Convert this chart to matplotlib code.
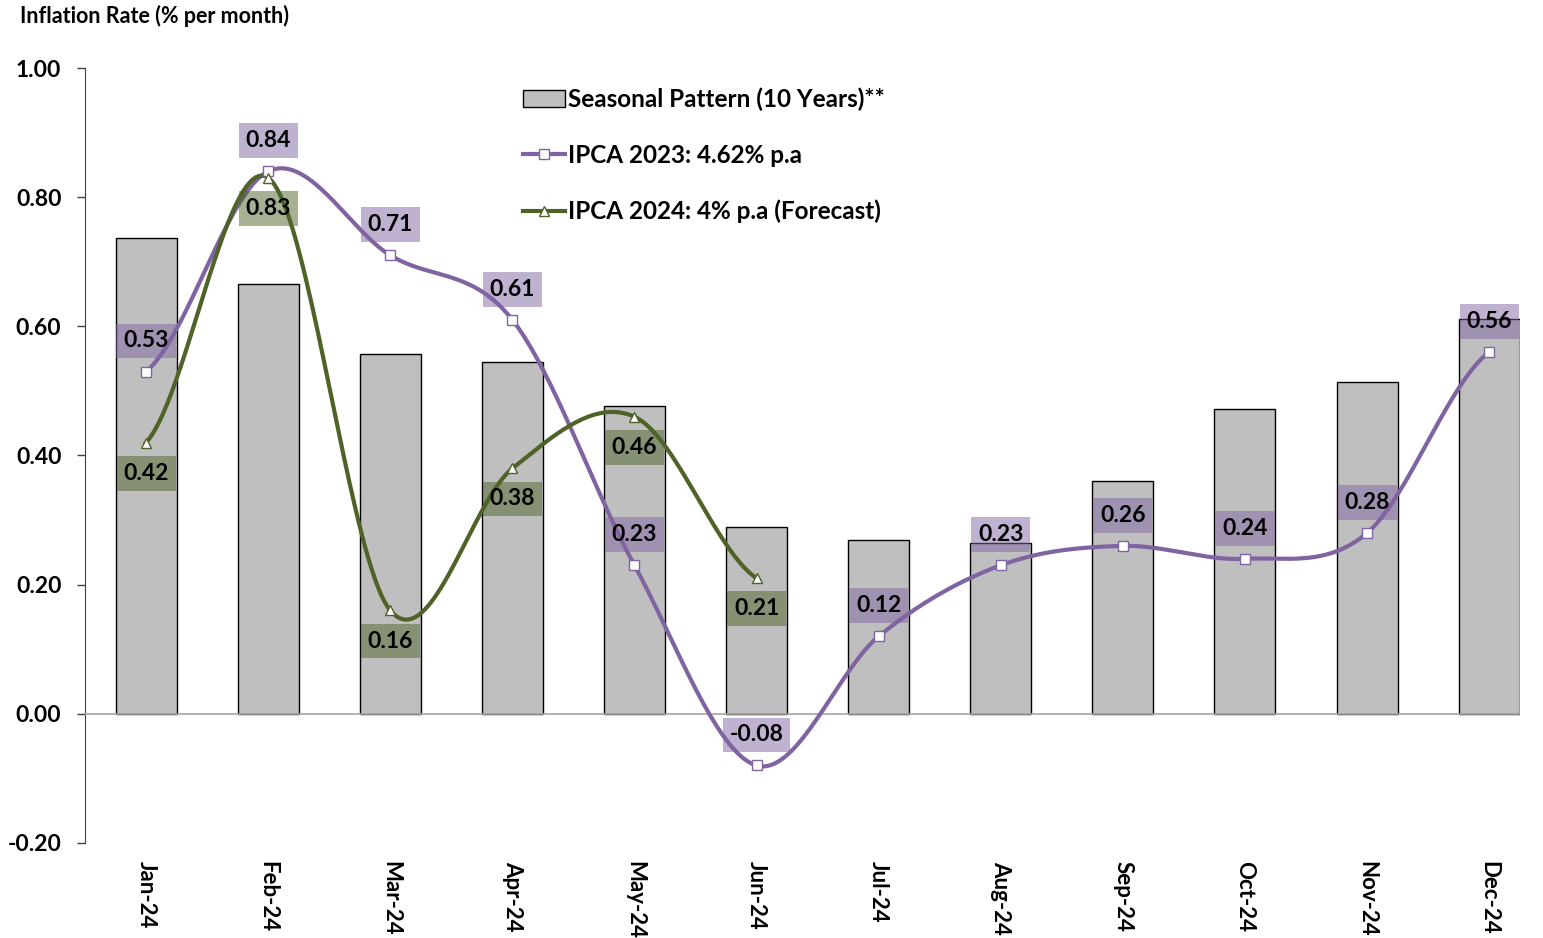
import numpy as np
import matplotlib.pyplot as plt
import matplotlib as mpl
from matplotlib.patches import Patch
from matplotlib.lines import Line2D

plt.rc('font', family=['Lato', 'DejaVu Sans'], weight='bold')
mpl.rcParams['axes.unicode_minus'] = False

months = ['Jan-24', 'Feb-24', 'Mar-24', 'Apr-24', 'May-24', 'Jun-24',
          'Jul-24', 'Aug-24', 'Sep-24', 'Oct-24', 'Nov-24', 'Dec-24']
seasonal = [0.737, 0.666, 0.557, 0.545, 0.477, 0.289, 0.269, 0.265, 0.361, 0.472, 0.514, 0.611]
ipca_2023 = [0.53, 0.84, 0.71, 0.61, 0.23, -0.08, 0.12, 0.23, 0.26, 0.24, 0.28, 0.56]
ipca_2024 = [0.42, 0.83, 0.16, 0.38, 0.46, 0.21]

purple = '#8064A2'
green = '#4F6228'


def smooth(y, n=40):
    # catmull-rom style smoothing like excel's smoothed line
    y = np.asarray(y, dtype=float)
    x = np.arange(len(y), dtype=float)
    xs, ys = [], []
    for i in range(len(y) - 1):
        p0 = y[i - 1] if i > 0 else y[i]
        p3 = y[i + 2] if i + 2 < len(y) else y[i + 1]
        p1, p2 = y[i], y[i + 1]
        c1 = p1 + (p2 - p0) / 6
        c2 = p2 - (p3 - p1) / 6
        t = np.linspace(0, 1, n)
        b = ((1 - t) ** 3 * p1 + 3 * (1 - t) ** 2 * t * c1
             + 3 * (1 - t) * t ** 2 * c2 + t ** 3 * p2)
        xs.append(x[i] + t)
        ys.append(b)
    return np.concatenate(xs), np.concatenate(ys)


fig = plt.figure(figsize=(15.43, 9.38), dpi=100)
ax = fig.add_axes([0.0551, 0.1013, 0.9298, 0.8262])

x = np.arange(len(months))
ax.bar(x, seasonal, width=0.5, color='#BFBFBF', edgecolor='black', linewidth=1, zorder=2)
ax.axhline(0, color='#A6A6A6', linewidth=1.2, zorder=3)

sx, sy = smooth(ipca_2023)
ax.plot(sx, sy, color=purple, linewidth=3, zorder=4)
ax.plot(x, ipca_2023, linestyle='none', marker='s', markersize=6.5,
        markerfacecolor='white', markeredgecolor=purple, markeredgewidth=1, zorder=5)

gx, gy = smooth(ipca_2024)
ax.plot(gx, gy, color=green, linewidth=3, zorder=4)
ax.plot(x[:len(ipca_2024)], ipca_2024, linestyle='none', marker='^', markersize=7.5,
        markerfacecolor='white', markeredgecolor=green, markeredgewidth=1, zorder=5)

for i, v in enumerate(ipca_2023):
    ax.annotate(f'{v:.2f}', (i, v), xytext=(0, 22), textcoords='offset points',
                ha='center', va='center', fontsize=16.5, fontweight='bold', zorder=6,
                bbox=dict(boxstyle='square,pad=0.3', facecolor=purple, alpha=0.5, edgecolor='none'))
for i, v in enumerate(ipca_2024):
    ax.annotate(f'{v:.2f}', (i, v), xytext=(0, -22), textcoords='offset points',
                ha='center', va='center', fontsize=16.5, fontweight='bold', zorder=6,
                bbox=dict(boxstyle='square,pad=0.3', facecolor=green, alpha=0.5, edgecolor='none'))

ax.set_xlim(-0.5, 11.25)
ax.set_ylim(-0.2, 1.0)
ax.set_yticks(np.arange(-0.2, 1.01, 0.2))
ax.set_yticklabels([f'{t:.2f}' for t in np.arange(-0.2, 1.01, 0.2)])
ax.set_xticks(x)
ax.set_xticklabels(months, rotation=-90, fontsize=16, fontweight='bold')
ax.tick_params(axis='x', length=0, pad=13)
ax.tick_params(axis='y', length=6, width=1, color='#404040', labelsize=16.5, pad=11)
for s in ['top', 'right', 'bottom']:
    ax.spines[s].set_visible(False)
ax.spines['left'].set_color('#404040')

fig.text(0.013, 0.983, 'Inflation Rate (% per month)', fontsize=15.5, fontweight='bold',
         ha='left', va='center')

handles = [
    Patch(facecolor='#BFBFBF', edgecolor='black', linewidth=1),
    Line2D([], [], color=purple, linewidth=3, marker='s', markersize=6.5,
           markerfacecolor='white', markeredgecolor=purple),
    Line2D([], [], color=green, linewidth=3, marker='^', markersize=7.5,
           markerfacecolor='white', markeredgecolor=green),
]
labels = ['Seasonal Pattern (10 Years)**', 'IPCA 2023: 4.62% p.a', 'IPCA 2024: 4% p.a (Forecast)']
ax.legend(handles, labels, loc='upper left', bbox_to_anchor=(0.29, 1.003), frameon=False,
          fontsize=17.5, handlelength=1.75, handletextpad=0.1, labelspacing=1.35)

plt.savefig('out.png', dpi=100)
